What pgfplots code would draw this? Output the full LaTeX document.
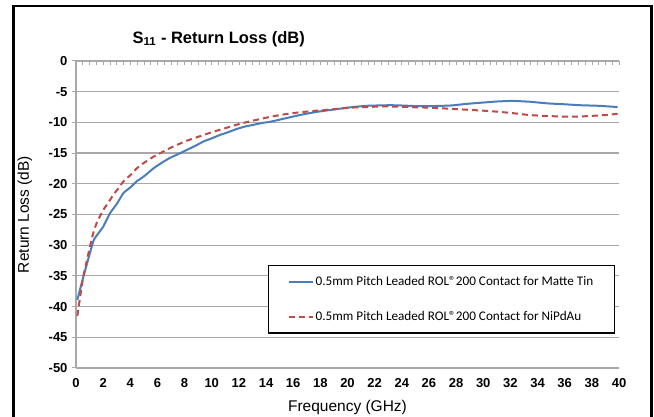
\documentclass[border=0pt]{standalone}
\usepackage{fontspec}
\setmainfont{Liberation Sans}
\newfontfamily\calibri{Carlito}
\usepackage{pgfplots}
\pgfplotsset{compat=1.18}
\definecolor{gridgray}{RGB}{168,168,168}
\definecolor{xlblue}{RGB}{74,126,187}
\definecolor{xlred}{RGB}{190,75,72}
\newcommand{\reg}{®}
\begin{document}
\begin{tikzpicture}
\path[use as bounding box] (0pt,0pt) rectangle (654pt,417pt);
\fill[white] (0pt,0pt) rectangle (654pt,417pt);
\draw[black, line width=2.5pt] (13.5pt,-10pt) rectangle (651.5pt,411pt);
% top axis with minor ticks
\begin{axis}[at={(76pt,49pt)}, anchor=south west, scale only axis,
  width=543pt, height=307pt, xmin=0, xmax=40, ymin=-50, ymax=0,
  axis x line*=top, axis y line=none,
  xtick={0,0.5,...,40}, xticklabels={},
  tick align=inside, major tick length=4pt,
  x axis line style={gridgray, line width=1.2pt},
  xtick style={gridgray, line width=0.7pt}]
\end{axis}
\begin{axis}[at={(76pt,49pt)}, anchor=south west, scale only axis,
  width=543pt, height=307pt, xmin=0, xmax=40, ymin=-50, ymax=0,
  axis lines*=left,
  axis line style={gridgray, line width=1.2pt},
  xtick={0,2,...,40}, ytick={-50,-45,...,0},
  xtick style={draw=none},
  ytick style={gridgray, line width=1pt},
  tick align=outside, major tick length=4pt,
  ymajorgrids, grid style={gridgray, line width=1.2pt},
  tick label style={font=\fontsize{13}{15}\selectfont\bfseries},
  /pgf/number format/assume math mode=true,
  xticklabel style={anchor=center, yshift=-11pt},
  yticklabel style={anchor=east, xshift=-1pt},
  title={S\textsubscript{11} - Return Loss (dB)},
  title style={font=\fontsize{16.5}{19}\selectfont\bfseries, at={(axis description cs:0.263,1.052)}, anchor=center},
  xlabel={Frequency (GHz)}, ylabel={Return Loss (dB)},
  label style={font=\fontsize{15.5}{18}\selectfont},
  xlabel style={at={(axis description cs:0.5,-0.130)}, anchor=center},
  ylabel style={at={(axis description cs:-0.094,0.5)}, anchor=center, rotate=0},
  legend style={at={(axis description cs:0.3536,0.3355)}, anchor=north west,
    draw=black, line width=1.3pt, font=\calibri\fontsize{13.2}{15}\selectfont,
    inner xsep=19pt, inner ysep=9pt, row sep=20pt},
  legend cell align=left,
  legend image code/.code={\draw[#1] (0pt,0pt) -- (24pt,0pt);}
]
\addplot[xlblue, line width=2pt, smooth, tension=0.3] coordinates {
(0.1,-38.9)(0.5,-35.5)(1.0,-31.5)(1.3,-29.2)(1.6,-28.2)(2.0,-27.0)(2.5,-24.8)(3.0,-23.3)(3.5,-21.5)(4.0,-20.6)(4.47,-19.6)(5.0,-18.8)(5.7,-17.5)(6.3,-16.6)(6.9,-15.8)(7.5,-15.2)(8.15,-14.5)(8.8,-13.8)(9.4,-13.1)(10.0,-12.6)(10.6,-12.05)(11.2,-11.6)(11.8,-11.1)(12.4,-10.7)(13.06,-10.4)(13.7,-10.1)(14.3,-9.9)(15.3,-9.4)(16.5,-8.8)(17.7,-8.3)(19.0,-7.9)(20.2,-7.55)(21.4,-7.3)(23.1,-7.2)(24,-7.25)(25.1,-7.35)(26.1,-7.35)(27.6,-7.25)(28.7,-7.0)(29.8,-6.8)(31,-6.6)(32.2,-6.5)(33.5,-6.65)(34.7,-6.9)(36,-7.05)(37.1,-7.2)(38.5,-7.3)(39.9,-7.5)
};
\addlegendentry{0.5mm Pitch Leaded ROL\reg200 Contact for Matte Tin}
\addplot[xlred, line width=2pt, dash pattern=on 6pt off 4pt, smooth, tension=0.3] coordinates {
(0.1,-41.5)(0.3,-38.5)(0.54,-35.1)(0.8,-32.5)(1.03,-30.2)(1.25,-28.2)(1.52,-26.4)(2.0,-24.3)(2.4,-23.0)(2.75,-21.8)(3.1,-20.8)(3.5,-19.6)(4.0,-18.6)(4.47,-17.5)(5.0,-16.6)(5.7,-15.6)(6.3,-14.9)(6.9,-14.2)(7.5,-13.6)(8.15,-13.0)(8.8,-12.5)(9.4,-12.05)(10.0,-11.6)(10.6,-11.2)(11.2,-10.8)(11.8,-10.4)(12.4,-10.05)(13.06,-9.7)(14.3,-9.1)(15.3,-8.7)(16.5,-8.35)(17.7,-8.1)(19,-7.85)(20.2,-7.6)(21.4,-7.5)(22.6,-7.4)(24,-7.45)(25.1,-7.55)(26.1,-7.6)(27.3,-7.75)(28.5,-7.9)(29.7,-8.05)(31.0,-8.25)(32.2,-8.5)(33.4,-8.8)(34.6,-8.95)(35.9,-9.05)(37,-9.05)(37.9,-8.95)(39,-8.8)(39.9,-8.6)
};
\addlegendentry{0.5mm Pitch Leaded ROL\reg200 Contact for NiPdAu}
\end{axis}
\end{tikzpicture}
\end{document}
